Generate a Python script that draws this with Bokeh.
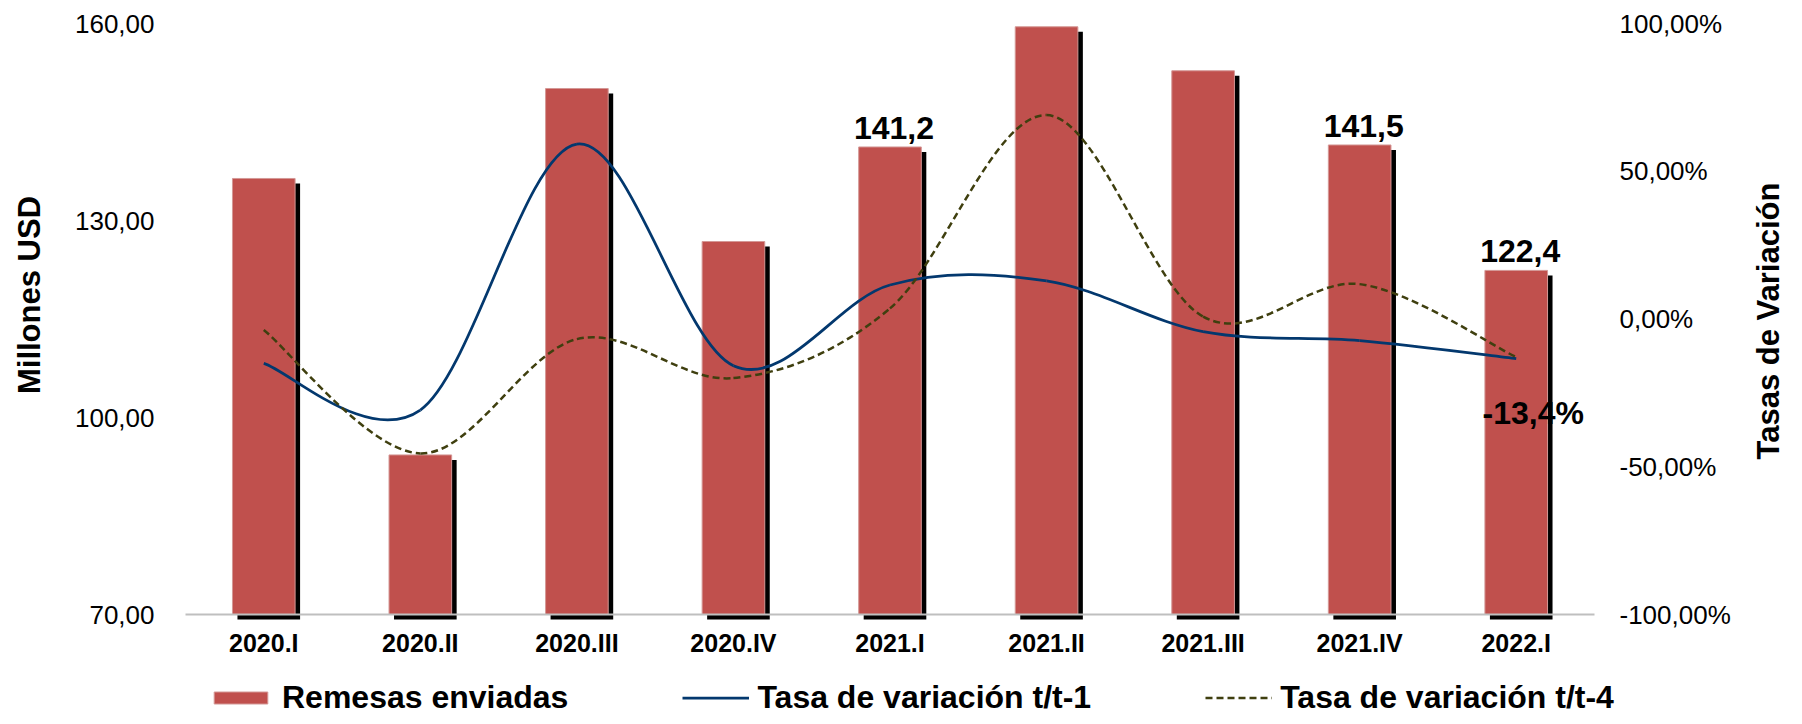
import math
from bokeh.plotting import figure
from bokeh.models import Range1d, LinearAxis, FixedTicker, Legend, LegendItem
from bokeh.core.properties import value
from bokeh.embed import file_html
from bokeh.resources import INLINE

# ---------------- data ----------------
categories = ["2020.I", "2020.II", "2020.III", "2020.IV", "2021.I",
              "2021.II", "2021.III", "2021.IV", "2022.I"]
remesas = [136.4, 94.3, 150.1, 126.8, 141.2, 159.5, 152.8, 141.5, 122.4]
tasa_t1 = [-15.0, -30.8, 59.2, -15.8, 11.5, 12.9, -4.3, -7.3, -13.4]
tasa_t4 = [-3.7, -45.5, -6.8, -20.0, 3.6, 69.0, 0.8, 11.8, -12.9]
left_ticks = [70, 100, 130, 160]
left_tick_labels = ["70,00", "100,00", "130,00", "160,00"]
right_ticks = [-100, -50, 0, 50, 100]
right_tick_labels = ["-100,00%", "-50,00%", "0,00%", "50,00%", "100,00%"]
bar_label_idx = [4, 7, 8]
rate_label_idx = [8]
left_title = "Millones USD"
right_title = "Tasas de Variación"
series_names = ["Remesas enviadas", "Tasa de variación t/t-1", "Tasa de variación t/t-4"]

FONT = "Liberation Sans"
RED = "#C0504D"
BLUE = "#03386E"
OLIVE = "#3F3F0F"

# ---------------- layout geometry (pixels) ----------------
W, H = 1786, 716
PL, PR, PT, PB = 185, 1594, 23, 614   # plot area edges
n = len(categories)
lo, hi = left_ticks[0], left_ticks[-1]
plo, phi = right_ticks[0], right_ticks[-1]
ppx = (PR - PL) / n
ppy = (PB - PT) / (hi - lo)
ppp = (PB - PT) / (phi - plo)

xs = [i + 0.5 for i in range(n)]

p = figure(width=W, height=H,
           x_range=Range1d(-PL / ppx, n + (W - PR) / ppx),
           y_range=Range1d(lo - (H - PB) / ppy, hi + PT / ppy),
           output_backend="svg", toolbar_location=None, min_border=0)
p.extra_y_ranges = {"pct": Range1d(plo - (H - PB) / ppp, phi + PT / ppp)}
p.xgrid.visible = False
p.ygrid.visible = False
p.outline_line_color = None

# ---- bars with shadow ----
bw = 0.40
shadow_dx = 5 / ppx
shadow_dy = 5 / ppy
p.vbar(x=[x + shadow_dx for x in xs], top=[v - shadow_dy for v in remesas],
       bottom=lo - shadow_dy, width=bw, fill_color="black", line_color=None)
bars = p.vbar(x=xs, top=remesas, bottom=lo, width=bw, fill_color=RED,
              line_color="#D49896", line_width=1)


# ---- smoothed lines (cubic bezier through data points) ----
def bezier_cols(ys):
    m = len(ys)
    d = dict(x0=[], y0=[], x1=[], y1=[], cx0=[], cy0=[], cx1=[], cy1=[])
    for i in range(m - 1):
        ip = max(i - 1, 0)
        inx = min(i + 2, m - 1)
        d["x0"].append(xs[i]); d["y0"].append(ys[i])
        d["x1"].append(xs[i + 1]); d["y1"].append(ys[i + 1])
        d["cx0"].append(xs[i] + (xs[i + 1] - xs[ip]) / 6.0)
        d["cy0"].append(ys[i] + (ys[i + 1] - ys[ip]) / 6.0)
        d["cx1"].append(xs[i + 1] - (xs[inx] - xs[i]) / 6.0)
        d["cy1"].append(ys[i + 1] - (ys[inx] - ys[i]) / 6.0)
    return d


line1 = p.bezier(y_range_name="pct", line_color=BLUE, line_width=2.75,
                 **bezier_cols(tasa_t1))
line4 = p.bezier(y_range_name="pct", line_color=OLIVE, line_width=2.5,
                 line_dash="7 4", **bezier_cols(tasa_t4))

# ---- data labels ----
p.text(x=[xs[i] for i in bar_label_idx], y=[remesas[i] for i in bar_label_idx],
       text=[f"{remesas[i]:.1f}".replace(".", ",") for i in bar_label_idx],
       text_align="center", text_baseline="alphabetic", x_offset=4, y_offset=-19,
       text_font=value(FONT), text_font_style="bold", text_font_size="32px",
       text_color="black")
p.text(x=[xs[i] for i in rate_label_idx], y=[tasa_t1[i] for i in rate_label_idx],
       text=[f"{tasa_t1[i]:.1f}%".replace(".", ",") for i in rate_label_idx],
       y_range_name="pct", text_align="center", text_baseline="alphabetic",
       x_offset=17, y_offset=54, text_font=value(FONT), text_font_style="bold",
       text_font_size="32px", text_color="black")

# ---- axis titles (vertical, reading bottom-to-top) ----
p.text(x=[0], y=[(lo + hi) / 2], text=[left_title], angle=math.pi / 2,
       x_offset=29 - PL, y_offset=-24, text_align="center", text_baseline="middle",
       text_font=value(FONT), text_font_style="bold", text_font_size="31px",
       text_color="black")
p.text(x=[n], y=[(plo + phi) / 2], text=[right_title], angle=math.pi / 2,
       y_range_name="pct", x_offset=W - 18 - PR, y_offset=2, text_align="center",
       text_baseline="middle", text_font=value(FONT), text_font_style="bold",
       text_font_size="31px", text_color="black")

# ---- x axis ----
xa = p.xaxis[0]
xa.fixed_location = lo
xa.bounds = (0, n)
xa.ticker = FixedTicker(ticks=xs)
xa.major_label_overrides = {x: c for x, c in zip(xs, categories)}
xa.axis_line_color = "#BFBFBF"
xa.axis_line_width = 2
xa.major_tick_line_color = None
xa.minor_tick_line_color = None
xa.major_tick_out = 0
xa.major_label_standoff = 14
xa.major_label_text_font = FONT
xa.major_label_text_font_style = "bold"
xa.major_label_text_font_size = "25px"
xa.major_label_text_color = "black"

# ---- left axis ----
ya = p.yaxis[0]
ya.fixed_location = 0
ya.bounds = (lo, hi)
ya.ticker = FixedTicker(ticks=left_ticks)
ya.major_label_overrides = {t: l for t, l in zip(left_ticks, left_tick_labels)}
ya.axis_line_color = None
ya.major_tick_line_color = None
ya.minor_tick_line_color = None
ya.major_tick_out = 0
ya.major_label_standoff = 31
ya.major_label_text_font = FONT
ya.major_label_text_font_size = "26px"
ya.major_label_text_color = "black"

# ---- right axis ----
ra = LinearAxis(y_range_name="pct", ticker=FixedTicker(ticks=right_ticks))
ra.fixed_location = n
ra.bounds = (plo, phi)
ra.major_label_overrides = {t: l for t, l in zip(right_ticks, right_tick_labels)}
ra.axis_line_color = None
ra.major_tick_line_color = None
ra.minor_tick_line_color = None
ra.major_tick_out = 0
ra.major_label_standoff = 25
ra.major_label_text_font = FONT
ra.major_label_text_font_size = "26px"
ra.major_label_text_color = "black"
p.add_layout(ra, "right")

# ---- legend ----
legend = Legend(items=[LegendItem(label=series_names[0], renderers=[bars]),
                       LegendItem(label=series_names[1], renderers=[line1]),
                       LegendItem(label=series_names[2], renderers=[line4])],
                location=(207, 0), orientation="horizontal", spacing=114,
                padding=0, margin=0, border_line_color=None,
                background_fill_alpha=0, glyph_width=67, glyph_height=15,
                label_standoff=8, label_text_font=FONT,
                label_text_font_style="bold", label_text_font_size="32px",
                label_text_color="black", label_height=30)
p.add_layout(legend)

open("out.html", "w").write(file_html(p, INLINE))
